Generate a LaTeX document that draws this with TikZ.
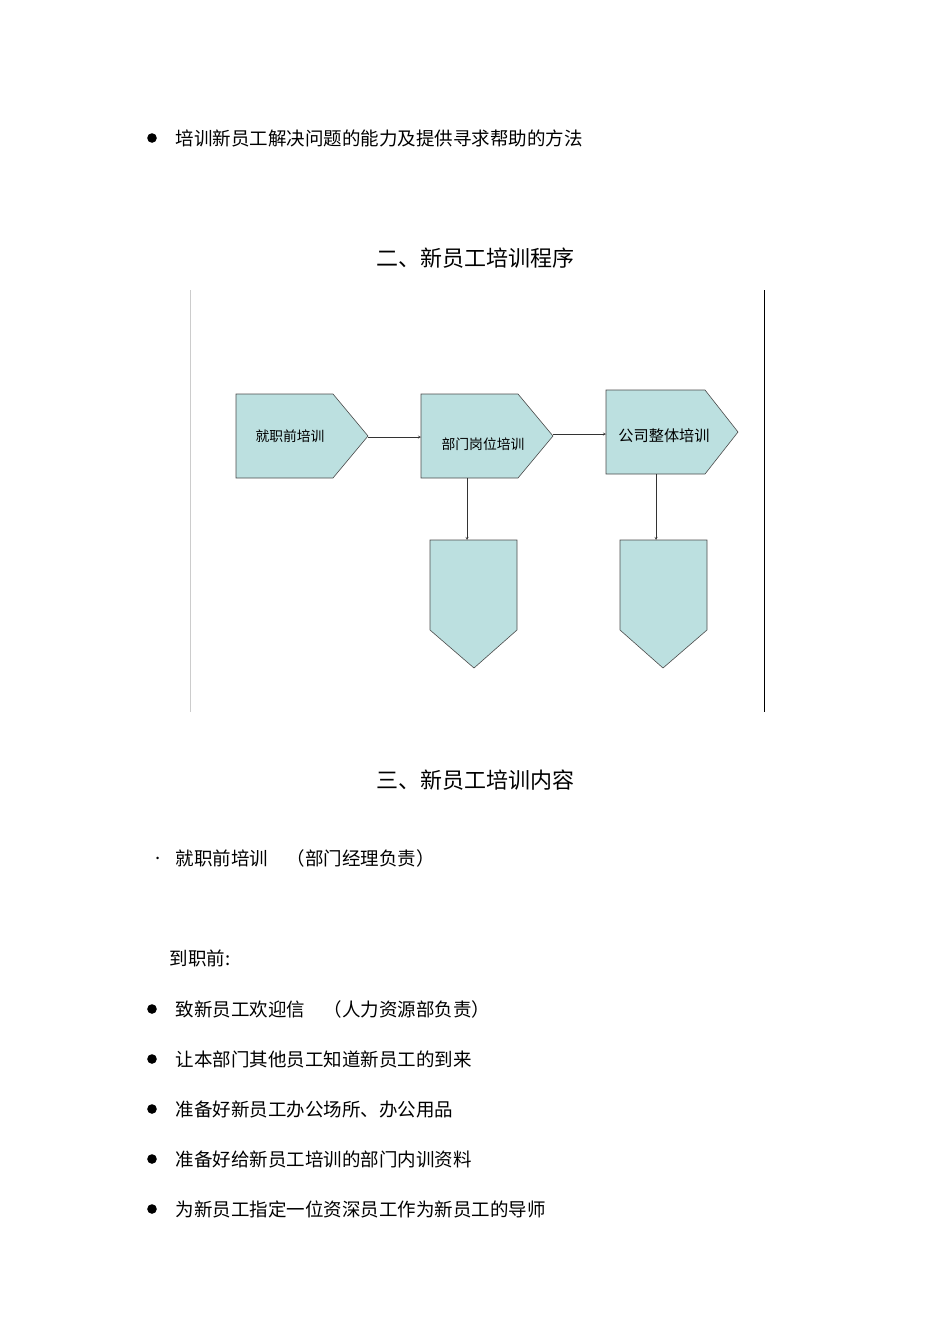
\documentclass[tikz,border=0pt]{standalone}
\usepackage{fontspec}
\setmainfont{Noto Sans CJK SC}
\usetikzlibrary{positioning}
\definecolor{boxFill}{HTML}{BCE0E0}
\tikzset{
	bodyText/.style={anchor=west, font=\fontsize{18.5}{21}\selectfont},
	headText/.style={font=\fontsize{22}{26}\selectfont},
	chartText/.style={font=\fontsize{13.8}{16}\selectfont},
	stepShape/.style={fill=boxFill, draw=black!70, line width=0.6pt},
	flowArrow/.style={->, >=stealth, line width=0.4pt, draw=black!80}
}
\begin{document}
\begin{tikzpicture}[x=1pt, y=-1pt]
	\useasboundingbox (0,0) rectangle (950,1344);

	\node[circle, fill=black, inner sep=3.4pt](dot0) at (152,138){};
	\node[bodyText](line0) at (172,138){培训新员工解决问题的能力及提供寻求帮助的方法};

	\node[headText](head1) at (475,258){二、新员工培训程序};

	\draw[black!20, line width=0.5pt] (190,290) -- (190,712);
	\draw[black, line width=0.8pt] (764,290) -- (764,712);

	% flow chart
	\draw[stepShape] (236,394) -- (333,394) -- (368,436) -- (333,478) -- (236,478) -- cycle;
	\draw[stepShape] (421,394) -- (518,394) -- (553,436) -- (518,478) -- (421,478) -- cycle;
	\draw[stepShape] (606,390) -- (705,390) -- (738,432) -- (705,474) -- (606,474) -- cycle;
	\draw[stepShape] (430,540) -- (517,540) -- (517,630) -- (474,668) -- (430,630) -- cycle;
	\draw[stepShape] (620,540) -- (707,540) -- (707,630) -- (663,668) -- (620,630) -- cycle;

	\node[chartText](stepOne) at (290,436){就职前培训};
	\node[chartText](stepTwo) at (483,444){部门岗位培训};
	\node[chartText, font=\fontsize{15.2}{18}\selectfont](stepThree) at (664,436){公司整体培训};

	\coordinate(oneTip) at (368,437);
	\coordinate(twoIn) at (421,437);
	\coordinate(twoTip) at (553,434);
	\coordinate(threeIn) at (606,434);
	\coordinate(twoBottom) at (467,478);
	\coordinate(subOne) at (467,540);
	\coordinate(threeBottom) at (656,474);
	\coordinate(subTwo) at (656,540);
	\draw[flowArrow] (oneTip) -- (twoIn);
	\draw[flowArrow] (twoTip) -- (threeIn);
	\draw[flowArrow] (twoBottom) -- (subOne);
	\draw[flowArrow] (threeBottom) -- (subTwo);

	\node[headText](head2) at (475,780){三、新员工培训内容};

	\node[bodyText](dotLine) at (152,858){.};
	\node[bodyText](line1) at (172,858){就职前培训　（部门经理负责）};
	\node[bodyText](line2) at (166,958){到职前:};

	\foreach \y/\t in {1009/致新员工欢迎信　（人力资源部负责）, 1059/让本部门其他员工知道新员工的到来, 1109/准备好新员工办公场所、办公用品, 1159/准备好给新员工培训的部门内训资料, 1209/为新员工指定一位资深员工作为新员工的导师}{
		\node[circle, fill=black, inner sep=3.4pt](dot\y) at (152,\y){};
		\node[bodyText](item\y) at (172,\y){\t};
	}
\end{tikzpicture}
\end{document}
